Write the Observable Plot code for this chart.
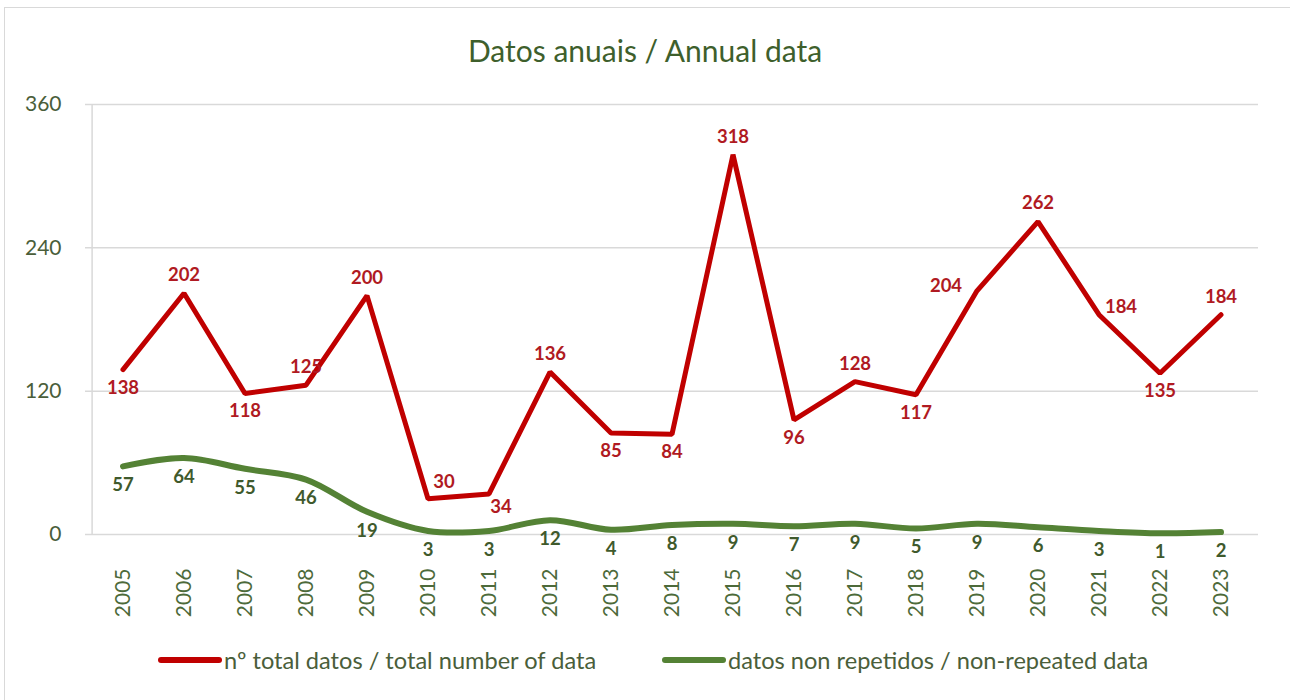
<!DOCTYPE html>
<html>
<head>
<meta charset="utf-8">
<script src="https://cdn.jsdelivr.net/npm/d3@7"></script>
<script src="https://cdn.jsdelivr.net/npm/@observablehq/plot@0.6"></script>
<style>
  html, body { margin: 0; padding: 0; background: #fff; }
  #wrap { position: relative; width: 1290px; height: 700px; overflow: hidden; font-family: Lato, "Open Sans", sans-serif; }
  #frame { position: absolute; left: 4px; top: 7px; width: 1300px; height: 700px; border-top: 1.5px solid #d9d9d9; border-left: 1.5px solid #d9d9d9; }
  #title { position: absolute; left: 0; width: 1290px; top: 30px; text-align: center; font-size: 30px; line-height: 40px; color: #3e5f2c; }
  #chart { position: absolute; left: 0; top: 80px; }
  #legend { position: absolute; top: 644px; left: 0; width: 1290px; font-size: 23.6px; line-height: 32px; color: #4a5e3a; }
  .item { position: absolute; display: flex; align-items: center; white-space: nowrap; }
  .sw { display: inline-block; width: 64px; height: 6px; border-radius: 3px; margin-right: 2px; }
</style>
</head>
<body>
<div id="wrap">
  <div id="frame"></div>
  <div id="title">Datos anuais / Annual data</div>
  <div id="chart"></div>
  <div id="legend"></div>
</div>
<script>
const years = ["2005","2006","2007","2008","2009","2010","2011","2012","2013","2014","2015","2016","2017","2018","2019","2020","2021","2022","2023"];
const totalData = [138,202,118,125,200,30,34,136,85,84,318,96,128,117,204,262,184,135,184];
const nonRepeated = [57,64,55,46,19,3,3,12,4,8,9,7,9,5,9,6,3,1,2];
const totalLabelPlace = ["below","above","below","above","above","aboveRight","belowRight","above","below","below","above","below","above","below","left","above","right","below","above"];
const yTicks = [0,120,240,360];
const seriesNames = ["nº total datos / total number of data", "datos non repetidos / non-repeated data"];
const seriesColors = ["#c00000", "#548235"];

const redRows = years.map((y, i) => ({year: y, value: totalData[i], place: totalLabelPlace[i]}));
const greenRows = years.map((y, i) => ({year: y, value: nonRepeated[i]}));

const offsets = {
  above: {dx: 0, dy: -18},
  below: {dx: 0, dy: 18},
  aboveRight: {dx: 16, dy: -17},
  belowRight: {dx: 12, dy: 13},
  left: {dx: -31, dy: -5},
  right: {dx: 22, dy: -8}
};

const labelFont = {fontFamily: "Lato, 'Open Sans', sans-serif", fontSize: 18.5, fontWeight: "bold"};

const redLabelMarks = Object.entries(offsets).map(([p, o]) =>
  Plot.text(redRows.filter(d => d.place === p), {
    x: "year", y: "value", text: d => String(d.value),
    dx: o.dx, dy: o.dy, fill: "#b01a22", ...labelFont
  })
);

const chart = Plot.plot({
  width: 1290,
  height: 560,
  marginLeft: 85,
  marginRight: 32,
  marginTop: 24,
  marginBottom: 106,
  style: {fontFamily: "Lato, 'Open Sans', sans-serif", fontSize: "21px", color: "#4a5e3a", background: "transparent"},
  x: {type: "band", domain: years, padding: 0, label: null},
  y: {domain: [0, 360], ticks: yTicks, label: null},
  marks: [
    Plot.gridY(yTicks, {stroke: "#d9d9d9", strokeOpacity: 1, strokeWidth: 1.5}),
    Plot.ruleX([0], {x: () => years[0], dx: -30.9, y1: 0, y2: 360, stroke: "#d9d9d9", strokeWidth: 1.5}),
    Plot.axisY(yTicks, {tickSize: 0, tickPadding: 24, fontSize: 21, fill: "#4a5e3a"}),
    Plot.axisX({tickSize: 0, tickPadding: 34, tickRotate: -90, fontSize: 21, fill: "#4d6a3a", label: null}),
    Plot.line(greenRows, {x: "year", y: "value", stroke: seriesColors[1], strokeWidth: 6, curve: "catmull-rom"}),
    Plot.line(redRows, {x: "year", y: "value", stroke: seriesColors[0], strokeWidth: 5, strokeLinejoin: "miter"}),
    Plot.text(greenRows, {x: "year", y: "value", text: d => String(d.value), dy: 19, fill: "#3f5a2c", ...labelFont}),
    ...redLabelMarks
  ]
});
document.getElementById("chart").appendChild(chart);

const legend = document.getElementById("legend");
const legendX = [158, 662];
seriesNames.forEach((name, i) => {
  const item = document.createElement("div");
  item.className = "item";
  item.style.left = legendX[i] + "px";
  item.innerHTML = `<span class="sw" style="background:${seriesColors[i]}"></span><span>${name}</span>`;
  legend.appendChild(item);
});
</script>
</body>
</html>
